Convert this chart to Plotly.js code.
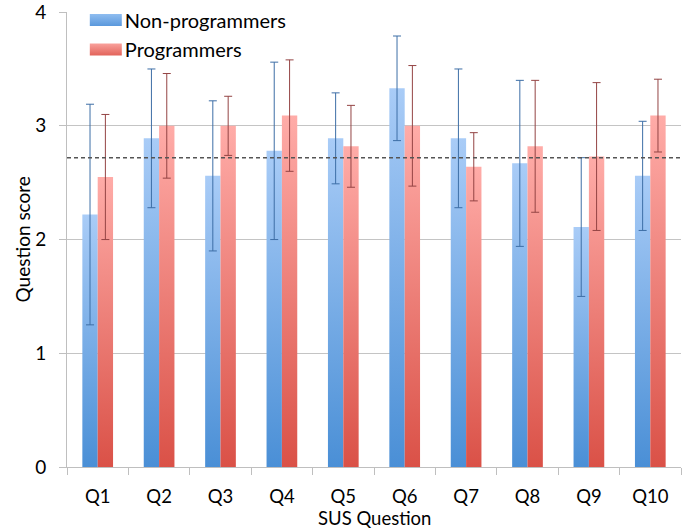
<!DOCTYPE html>
<html>
<head>
<meta charset="utf-8">
<script src="https://cdn.plot.ly/plotly-3.0.1.min.js"></script>
<style>body{margin:0;background:#fff}</style>
</head>
<body>
<div id="chart" style="width:694px;height:532px"></div>
<script>
const categories = ["Q1","Q2","Q3","Q4","Q5","Q6","Q7","Q8","Q9","Q10"];
const nonProgrammers = [2.22, 2.89, 2.56, 2.78, 2.89, 3.33, 2.89, 2.67, 2.11, 2.56];
const nonProgrammersErr = [0.97, 0.61, 0.66, 0.78, 0.40, 0.46, 0.61, 0.73, 0.61, 0.48];
const programmers = [2.55, 3.00, 3.00, 3.09, 2.82, 3.00, 2.64, 2.82, 2.73, 3.09];
const programmersErr = [0.55, 0.46, 0.26, 0.49, 0.36, 0.53, 0.30, 0.58, 0.65, 0.32];
const averageLine = 2.72;
const yTicks = [0, 1, 2, 3, 4];
const xTitle = "SUS Question";
const yTitle = "Question score";

const FONT = "Lato, 'Open Sans', sans-serif";

const traces = [
  {
    type: "bar", name: "Non-programmers", x: categories, y: nonProgrammers,
    marker: {color: "#78aee9"},
    error_y: {type: "data", array: nonProgrammersErr, visible: true, color: "#3d6ea6", thickness: 1, width: 4}
  },
  {
    type: "bar", name: "Programmers", x: categories, y: programmers,
    marker: {color: "#f08a84"},
    error_y: {type: "data", array: programmersErr, visible: true, color: "#944444", thickness: 1, width: 4}
  }
];

const layout = {
  width: 694, height: 532,
  margin: {l: 67, r: 13, t: 12, b: 65, autoexpand: false},
  paper_bgcolor: "#fff", plot_bgcolor: "#fff",
  barmode: "group", bargap: 0.5, bargroupgap: 0,
  font: {family: FONT, color: "#000", size: 17},
  showlegend: true,
  legend: {x: 0.029, y: 1.0, xanchor: "left", yanchor: "top", bgcolor: "rgba(0,0,0,0)",
           font: {family: FONT, size: 20, color: "#000"}, tracegroupgap: 0, itemwidth: 30},
  xaxis: {
    type: "category", tickson: "boundaries", ticks: "outside", ticklen: 7, tickcolor: "#bfbfbf",
    showline: true, linecolor: "#bfbfbf", linewidth: 1, showgrid: false, zeroline: false,
    tickfont: {family: FONT, size: 18.5}, ticklabelstandoff: 13, automargin: false
  },
  yaxis: {
    range: [0, 4.001], tickvals: yTicks, ticktext: yTicks.map(String),
    ticks: "outside", ticklen: 7, tickcolor: "#bfbfbf", ticklabeloverflow: "allow",
    showline: true, linecolor: "#bfbfbf", linewidth: 1,
    showgrid: true, gridcolor: "#c4c4c4", gridwidth: 1, zeroline: false, automargin: false,
    tickfont: {family: FONT, size: 19}, ticklabelstandoff: 9
  },
  annotations: [
    {text: xTitle, xref: "paper", yref: "paper", x: 0.5, y: -0.113, xanchor: "center", yanchor: "middle",
     showarrow: false, font: {family: FONT, size: 18.5, color: "#000"}},
    {text: yTitle, xref: "paper", yref: "paper", x: -0.0717, y: 0.5, xanchor: "center", yanchor: "middle",
     textangle: -90, showarrow: false, font: {family: FONT, size: 19, color: "#000"}}
  ],
  shapes: [{
    type: "line", xref: "paper", x0: 0, x1: 1, yref: "y", y0: averageLine, y1: averageLine,
    line: {color: "#555", width: 1.5, dash: "4px,3px"}
  }]
};

function parseT(el) {
  const m = /translate\(([-\d.e]+)[,\s]+([-\d.e]+)\)/.exec(el.getAttribute("transform") || "");
  return m ? [+m[1], +m[2]] : [0, 0];
}

Plotly.newPlot("chart", traces, layout, {staticPlot: true}).then(function(gd) {
  const svg = gd.querySelector("svg.main-svg");
  const ns = "http://www.w3.org/2000/svg";
  let defs = svg.querySelector("defs");
  function grad(id, top, bottom) {
    const g = document.createElementNS(ns, "linearGradient");
    g.setAttribute("id", id);
    g.setAttribute("x1", "0"); g.setAttribute("y1", "0");
    g.setAttribute("x2", "0"); g.setAttribute("y2", "1");
    [[0, top], [1, bottom]].forEach(function(s) {
      const st = document.createElementNS(ns, "stop");
      st.setAttribute("offset", s[0]);
      st.setAttribute("stop-color", s[1]);
      g.appendChild(st);
    });
    defs.appendChild(g);
  }
  grad("gradBlue", "#a9ccf7", "#4a8fd6");
  grad("gradRed", "#ffaca8", "#da5147");
  grad("gradBlueL", "#8fbdf0", "#5a98dc");
  grad("gradRedL", "#f9a19c", "#e2635a");
  const ids = ["gradBlue", "gradRed"];
  gd.querySelectorAll(".barlayer .trace").forEach(function(tr, i) {
    tr.querySelectorAll(".point path").forEach(function(p) {
      p.style.fill = "url(#" + ids[i] + ")";
    });
  });
  const lids = ["gradBlueL", "gradRedL"];
  const items = gd.querySelectorAll(".legend .traces");
  items.forEach(function(tr, i) {
    const p = tr.querySelector(".legendpoints path");
    if (p) {
      p.setAttribute("d", "M-15,6H17V-6H-15Z");
      p.style.fill = "url(#" + lids[i] + ")";
      p.style.stroke = "none";
    }
  });
  // legend rows: centres at 20px and 49.5px like the reference
  const leg = gd.querySelector(".legend");
  if (leg && items.length === 2) {
    const lt = parseT(leg);
    const t0 = parseT(items[0]);
    leg.setAttribute("transform", "translate(" + lt[0] + "," + (20 - t0[1]) + ")");
    items[1].setAttribute("transform", "translate(" + t0[0] + "," + (t0[1] + 29.5) + ")");
  }
});
</script>
</body>
</html>
